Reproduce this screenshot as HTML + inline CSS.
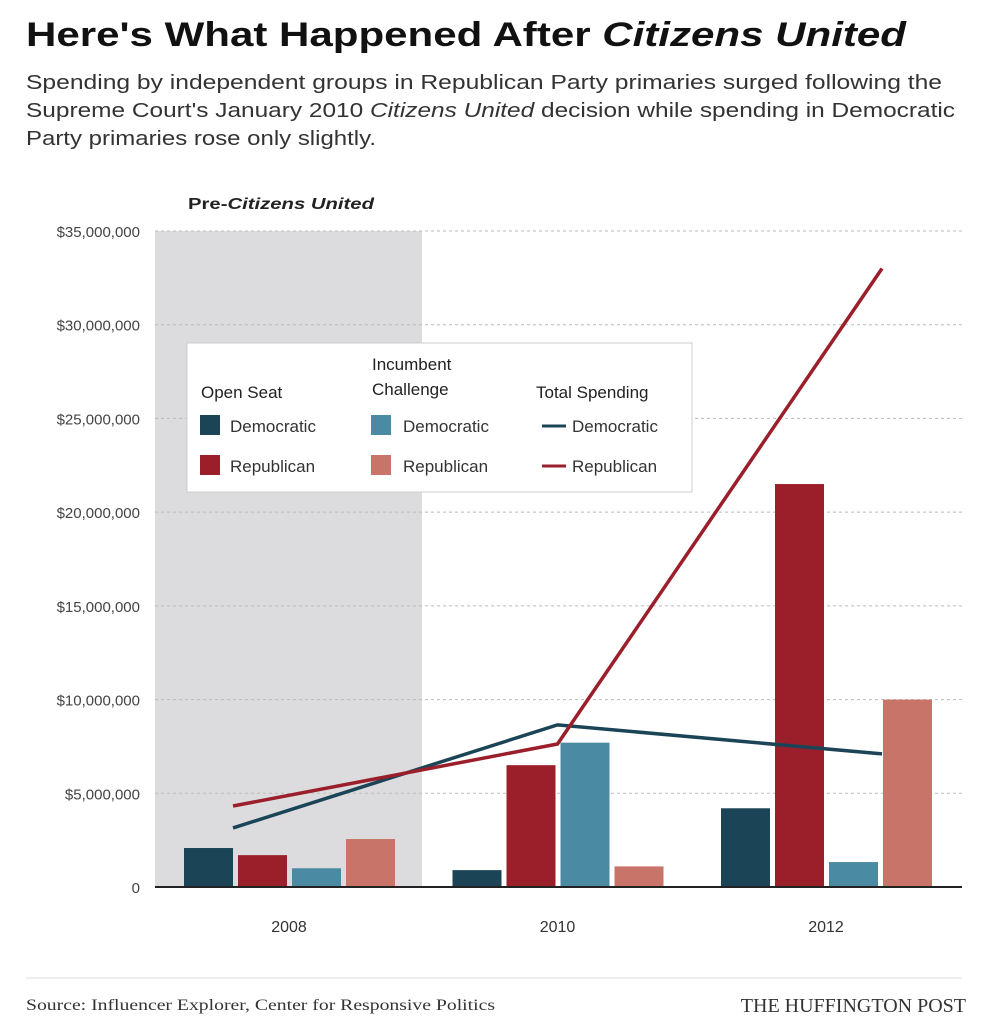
<!DOCTYPE html>
<html><head><meta charset="utf-8"><style>
body{margin:0;background:#fff;width:992px;height:1024px;overflow:hidden;font-family:"Liberation Sans",sans-serif;}
svg text{font-family:"Liberation Sans",sans-serif;}
</style></head><body>
<svg id="c" width="992" height="1024">
<text x="26" y="46" font-size="34" font-weight="bold" fill="#111" textLength="880" lengthAdjust="spacingAndGlyphs">Here's What Happened After <tspan font-style="italic">Citizens United</tspan></text>
<text x="26" y="89" font-size="20" fill="#333" textLength="916" lengthAdjust="spacingAndGlyphs">Spending by independent groups in Republican Party primaries surged following the</text>
<text x="26" y="117" font-size="20" fill="#333" textLength="929" lengthAdjust="spacingAndGlyphs">Supreme Court's January 2010 <tspan font-style="italic">Citizens United</tspan> decision while spending in Democratic</text>
<text x="26" y="145" font-size="20" fill="#333" textLength="350" lengthAdjust="spacingAndGlyphs">Party primaries rose only slightly.</text>
<rect x="155" y="231" width="267" height="656" fill="#dcdcde"/>
<text x="188" y="209" font-size="16" font-weight="bold" fill="#222" textLength="186" lengthAdjust="spacingAndGlyphs">Pre-<tspan font-style="italic">Citizens United</tspan></text>
<g id="grid"></g><g id="bars"></g><g id="lines"></g>
<line x1="155" y1="887" x2="962" y2="887" stroke="#222" stroke-width="2"/>
<g>
<rect x="187" y="343" width="505" height="149" fill="#fff" stroke="#ccc"/>
<text x="201" y="398" font-size="17" fill="#222">Open Seat</text>
<text x="372" y="370" font-size="17" fill="#222">Incumbent</text>
<text x="372" y="395" font-size="17" fill="#222">Challenge</text>
<text x="536" y="398" font-size="17" fill="#222">Total Spending</text>
<rect x="200" y="415" width="20" height="20" fill="#1b4557"/>
<text x="230" y="432" font-size="17" fill="#333">Democratic</text>
<rect x="200" y="455" width="20" height="20" fill="#9b1e2b"/>
<text x="230" y="472" font-size="17" fill="#333">Republican</text>
<rect x="371" y="415" width="20" height="20" fill="#4a8aa3"/>
<text x="403" y="432" font-size="17" fill="#333">Democratic</text>
<rect x="371" y="455" width="20" height="20" fill="#c97468"/>
<text x="403" y="472" font-size="17" fill="#333">Republican</text>
<line x1="542" y1="426" x2="566" y2="426" stroke="#1b4557" stroke-width="3"/>
<text x="572" y="432" font-size="17" fill="#333">Democratic</text>
<line x1="542" y1="466" x2="566" y2="466" stroke="#9b1e2b" stroke-width="3"/>
<text x="572" y="472" font-size="17" fill="#333">Republican</text>
</g>
<line x1="26" y1="978" x2="962" y2="978" stroke="#ddd"/>
<text x="26" y="1010" font-size="16" textLength="469" lengthAdjust="spacingAndGlyphs" style="font-family:'Liberation Serif',serif" fill="#333">Source: Influencer Explorer, Center for Responsive Politics</text>
<text x="966" y="1012" font-size="20" text-anchor="end" style="font-family:'Liberation Serif',serif" fill="#333">THE HUFFINGTON POST</text>
</svg>
<script>
const years=["2008","2010","2012"];
const openDem=[2.08,0.9,4.2];
const openRep=[1.7,6.5,21.5];
const incDem=[1.0,7.7,1.33];
const incRep=[2.56,1.1,10.0];
const totalDem=[3.15,8.65,7.1];
const totalRep=[4.32,7.63,33.0];
const yTicks=[0,5,10,15,20,25,30,35];
const yTickLabels=["0","$5,000,000","$10,000,000","$15,000,000","$20,000,000","$25,000,000","$30,000,000","$35,000,000"];
const NS="http://www.w3.org/2000/svg";
const y=v=>887-v*656/35;
const xc=i=>289+i*268.5;
function mk(t,a,p){const e=document.createElementNS(NS,t);for(const k in a)e.setAttribute(k,a[k]);document.getElementById(p).appendChild(e);return e;}
yTicks.forEach((t,i)=>{
  if(t>0){const g=mk('line',{x1:155,x2:962,y1:y(t),y2:y(t),stroke:'#bbb','stroke-dasharray':'3,3'},'grid');
  
  }
  const l=mk('text',{x:140,y:y(t)+6,'font-size':15,'text-anchor':'end',fill:'#444'},'grid');
  l.textContent=yTickLabels[i];
  
  
});
years.forEach((yr,i)=>{
  const l=mk('text',{x:xc(i),y:932,'font-size':16,'text-anchor':'middle',fill:'#333'},'grid');
  l.textContent=yr;
  
  
});
const series=[[openDem,'#1b4557','bar-open-dem'],[openRep,'#9b1e2b','bar-open-rep'],[incDem,'#4a8aa3','bar-inc-dem'],[incRep,'#c97468','bar-inc-rep']];
series.forEach((s,k)=>{s[0].forEach((v,i)=>{
  const x0=xc(i)-105+k*54;
  const b=mk('rect',{x:x0,y:y(v),width:49,height:887-y(v),fill:s[1]},'bars');
  
  
});});
const lx=[-56,0,56];
[[totalDem,'#1b4557','line-total-dem'],[totalRep,'#9b1e2b','line-total-rep']].forEach(s=>{
  const pts=s[0].map((v,i)=>(xc(i)+lx[i])+','+y(v)).join(' ');
  const p=mk('polyline',{points:pts,fill:'none',stroke:s[1],'stroke-width':3.5},'lines');
  
  
});
</script>
</body></html>
